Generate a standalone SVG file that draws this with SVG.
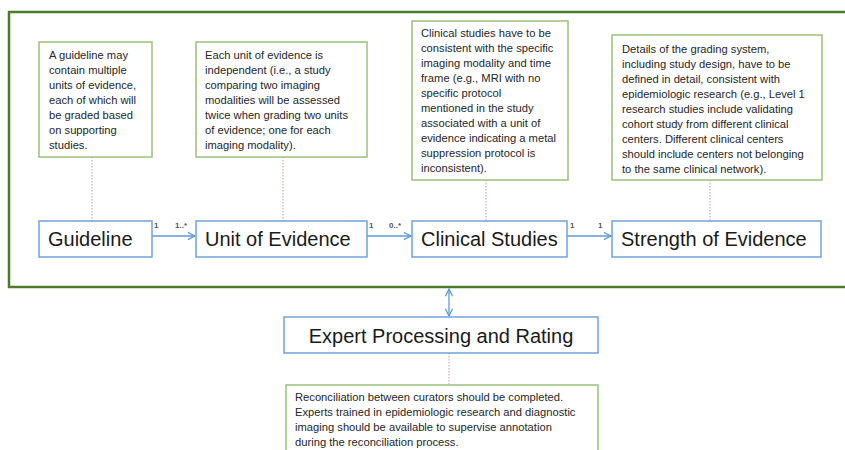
<svg xmlns="http://www.w3.org/2000/svg" width="845" height="450" viewBox="0 0 845 450">
  <defs>
    <marker id="open-arrow" viewBox="0 0 10 10" refX="9" refY="5" markerWidth="9" markerHeight="9" markerUnits="userSpaceOnUse" orient="auto-start-reverse">
      <path d="M1,1 L9,5 L1,9" fill="none" stroke="#5b9bd5" stroke-width="1.4"/>
    </marker>
  </defs>
  <style>
    .frame { fill: none; stroke: #4f7a2e; stroke-width: 2.5; }
    .note { fill: #ffffff; stroke: #9bc07a; stroke-width: 1.5; }
    .entity { fill: #ffffff; stroke: #6fa3dc; stroke-width: 1.5; }
    .note-text { font-family: "Liberation Sans", Arial, sans-serif; font-size: 11.2px; fill: #262626; }
    .entity-text { font-family: "Liberation Sans", Arial, sans-serif; font-size: 20px; fill: #1a1a1a; }
    .mult { font-family: "Liberation Sans", Arial, sans-serif; font-size: 8px; font-weight: bold; fill: #555555; }
    .link { fill: none; stroke: #5b9bd5; stroke-width: 1.3; }
    .anchor { fill: none; stroke: #d49a9a; stroke-width: 1; stroke-dasharray: 1.5 1.5; }
  </style>

  <rect class="frame" x="9" y="12" width="850" height="275"/>

  <g id="connectors">
    <line class="anchor" x1="92" y1="157" x2="92" y2="221"/>
    <line class="anchor" x1="283" y1="157" x2="283" y2="221"/>
    <line class="anchor" x1="486" y1="180" x2="486" y2="221"/>
    <line class="anchor" x1="710" y1="180" x2="710" y2="221"/>
    <line class="anchor" x1="449" y1="353" x2="449" y2="385"/>
    <line class="link" x1="152" y1="236" x2="195" y2="236" marker-end="url(#open-arrow)"/>
    <line class="link" x1="367" y1="236" x2="411" y2="236" marker-end="url(#open-arrow)"/>
    <line class="link" x1="567" y1="236" x2="611" y2="236" marker-end="url(#open-arrow)"/>
    <line class="link" x1="449" y1="289" x2="449" y2="316" marker-start="url(#open-arrow)" marker-end="url(#open-arrow)"/>
    <text class="mult" x="154" y="228">1</text>
    <text class="mult" x="175" y="228">1..*</text>
    <text class="mult" x="369" y="228">1</text>
    <text class="mult" x="389" y="228">0..*</text>
    <text class="mult" x="570" y="228">1</text>
    <text class="mult" x="598" y="228">1</text>
  </g>

  <g id="note-guideline">
    <rect class="note" x="39" y="42" width="113" height="115"/>
    <text class="note-text" x="49" y="59">
      <tspan x="49" y="59">A guideline may</tspan>
      <tspan x="49" y="74">contain multiple</tspan>
      <tspan x="49" y="89">units of evidence,</tspan>
      <tspan x="49" y="104">each of which will</tspan>
      <tspan x="49" y="119">be graded based</tspan>
      <tspan x="49" y="134">on supporting</tspan>
      <tspan x="49" y="149">studies.</tspan>
    </text>
  </g>

  <g id="note-unit">
    <rect class="note" x="196" y="42" width="171" height="115"/>
    <text class="note-text" x="205" y="59">
      <tspan x="205" y="59">Each unit of evidence is</tspan>
      <tspan x="205" y="74">independent (i.e., a study</tspan>
      <tspan x="205" y="89">comparing two imaging</tspan>
      <tspan x="205" y="104">modalities will be assessed</tspan>
      <tspan x="205" y="119">twice when grading two units</tspan>
      <tspan x="205" y="134">of evidence; one for each</tspan>
      <tspan x="205" y="149">imaging modality).</tspan>
    </text>
  </g>

  <g id="note-clinical">
    <rect class="note" x="412" y="21" width="156" height="159"/>
    <text class="note-text" x="421" y="37">
      <tspan x="421" y="37">Clinical studies have to be</tspan>
      <tspan x="421" y="52">consistent with the specific</tspan>
      <tspan x="421" y="67">imaging modality and time</tspan>
      <tspan x="421" y="82">frame (e.g., MRI with no</tspan>
      <tspan x="421" y="97">specific protocol</tspan>
      <tspan x="421" y="112">mentioned in the study</tspan>
      <tspan x="421" y="127">associated with a unit of</tspan>
      <tspan x="421" y="142">evidence indicating a metal</tspan>
      <tspan x="421" y="157">suppression protocol is</tspan>
      <tspan x="421" y="172">inconsistent).</tspan>
    </text>
  </g>

  <g id="note-strength">
    <rect class="note" x="612" y="35" width="210" height="145"/>
    <text class="note-text" x="622" y="52.5">
      <tspan x="622" y="52.5">Details of the grading system,</tspan>
      <tspan x="622" y="67.5">including study design, have to be</tspan>
      <tspan x="622" y="82.5">defined in detail, consistent with</tspan>
      <tspan x="622" y="97.5">epidemiologic research (e.g., Level 1</tspan>
      <tspan x="622" y="112.5">research studies include validating</tspan>
      <tspan x="622" y="127.5">cohort study from different clinical</tspan>
      <tspan x="622" y="142.5">centers. Different clinical centers</tspan>
      <tspan x="622" y="157.5">should include centers not belonging</tspan>
      <tspan x="622" y="172.5">to the same clinical network).</tspan>
    </text>
  </g>

  <g id="guideline">
    <rect class="entity" x="39" y="221" width="113" height="36"/>
    <text class="entity-text" x="48" y="246">Guideline</text>
  </g>

  <g id="unit-of-evidence">
    <rect class="entity" x="196" y="221" width="171" height="36"/>
    <text class="entity-text" x="205" y="246">Unit of Evidence</text>
  </g>

  <g id="clinical-studies">
    <rect class="entity" x="412" y="221" width="155" height="36"/>
    <text class="entity-text" x="421" y="246">Clinical Studies</text>
  </g>

  <g id="strength-of-evidence">
    <rect class="entity" x="612" y="221" width="209" height="36"/>
    <text class="entity-text" x="621" y="246">Strength of Evidence</text>
  </g>

  <g id="expert-processing">
    <rect class="entity" x="284" y="317" width="314" height="36"/>
    <text class="entity-text" x="441" y="343" text-anchor="middle">Expert Processing and Rating</text>
  </g>

  <g id="note-expert">
    <rect class="note" x="286" y="385" width="312" height="75"/>
    <text class="note-text" x="295" y="401">
      <tspan x="295" y="401">Reconciliation between curators should be completed.</tspan>
      <tspan x="295" y="416">Experts trained in epidemiologic research and diagnostic</tspan>
      <tspan x="295" y="431">imaging should be available to supervise annotation</tspan>
      <tspan x="295" y="446">during the reconciliation process.</tspan>
    </text>
  </g>
</svg>
